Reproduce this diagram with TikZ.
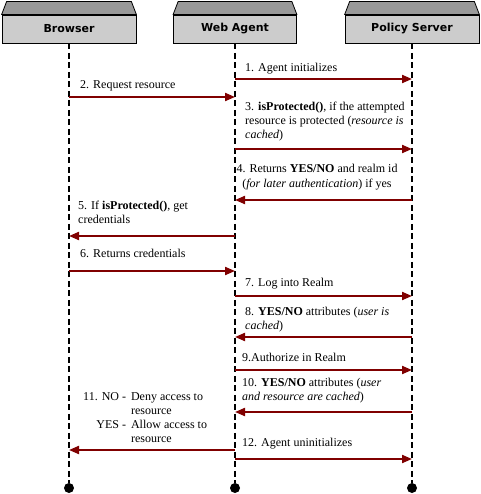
\documentclass[tikz,border=0pt]{standalone}
\usepackage{fontspec}
\setmainfont{Liberation Serif}
\newfontfamily\headfont{DejaVu Sans}
\usetikzlibrary{
  arrows.meta,
  positioning,
  calc
}
\definecolor{msgred}{HTML}{800000}
\definecolor{headtop}{HTML}{999999}
\definecolor{headbox}{HTML}{CCCCCC}

\begin{document}
\begin{tikzpicture}[
    x=1pt,y=-1pt,
    >={Triangle[length=10pt,width=8pt]},
    actor/.style={draw,line width=0.8pt,fill=headbox,minimum height=28pt,
      inner sep=0pt,font=\headfont\bfseries\fontsize{11}{13}\selectfont},
    lifeline/.style={line width=2.2pt,dash pattern=on 6pt off 3.5pt},
    msg/.style={->,msgred,line width=2pt},
    lbl/.style={anchor=base west,inner sep=0pt,align=left,
      font=\fontsize{12}{14}\selectfont},
    endpt/.style={circle,fill,inner sep=0pt,minimum size=10pt}
    ]

    \useasboundingbox (0,0) rectangle (480,494);

    % lifeline heads
    \node[actor,minimum width=134pt] (browser) at (69,29) {Browser};
    \node[actor,minimum width=123pt] (agent) at (235,29) {Web Agent};
    \node[actor,minimum width=134pt] (policy) at (412,29) {Policy Server};

    \foreach \n in {browser,agent,policy}{
      \draw[line width=0.8pt,fill=headtop] (\n.north west) -- ++(5,-13)
        -- ($(\n.north east)+(-5,-13)$) -- (\n.north east) -- cycle;
      \node[endpt] (\n-end) at (\n.south |- 0,488) {};
      \draw[lifeline] (\n.south) -- (\n-end);
    }

    % messages (multi-line labels sit on their last line)
    \node[lbl] (m1) at (245,72) {1. Agent initializes};
    \draw[msg] (agent |- 0,79) -- (policy |- 0,79);

    \node[lbl] (m2) at (80,89) {2. Request resource};
    \draw[msg] (browser |- 0,97) -- (agent |- 0,97);

    \node[lbl] (m3) at (245,139)
    {3. \textbf{isProtected()}, if the attempted\\
     resource is protected (\textit{resource is}\\
     \textit{cached})};
    \draw[msg] (agent |- 0,149) -- (policy |- 0,149);

    \node[lbl,anchor=base,align=center] (m4) at (317,187)
    {4. Returns \textbf{YES/NO} and realm id\\
     (\textit{for later authentication}) if yes};
    \draw[msg] (policy |- 0,200) -- (agent |- 0,200);

    \node[lbl] (m5) at (78,223)
    {5. If \textbf{isProtected()}, get\\credentials};
    \draw[msg] (agent |- 0,236) -- (browser |- 0,236);

    \node[lbl] (m6) at (80,257) {6. Returns credentials};
    \draw[msg] (browser |- 0,271) -- (agent |- 0,271);

    \node[lbl] (m7) at (245,286) {7. Log into Realm};
    \draw[msg] (agent |- 0,296) -- (policy |- 0,296);

    \node[lbl] (m8) at (245,329)
    {8. \textbf{YES/NO} attributes (\textit{user is}\\\textit{cached})};
    \draw[msg] (policy |- 0,337) -- (agent |- 0,337);

    \node[lbl] (m9) at (242,361) {9.Authorize in Realm};
    \draw[msg] (agent |- 0,370) -- (policy |- 0,370);

    \node[lbl] (m10) at (242,400)
    {10. \textbf{YES/NO} attributes (\textit{user}\\
     \textit{and resource are cached})};
    \draw[msg] (policy |- 0,412) -- (agent |- 0,412);

    \node[lbl] (m11) at (83,400)
    {\begin{tabular}[t]{@{}r@{\hspace{5pt}}l@{}}
      11. NO -&Deny access to\\
      &resource\\
      YES -&Allow access to\\
      &resource
     \end{tabular}};
    \draw[msg] (agent |- 0,450) -- (browser |- 0,450);

    \node[lbl] (m12) at (242,446) {12. Agent uninitializes};
    \draw[msg] (agent |- 0,459) -- (policy |- 0,459);

\end{tikzpicture}
\end{document}
